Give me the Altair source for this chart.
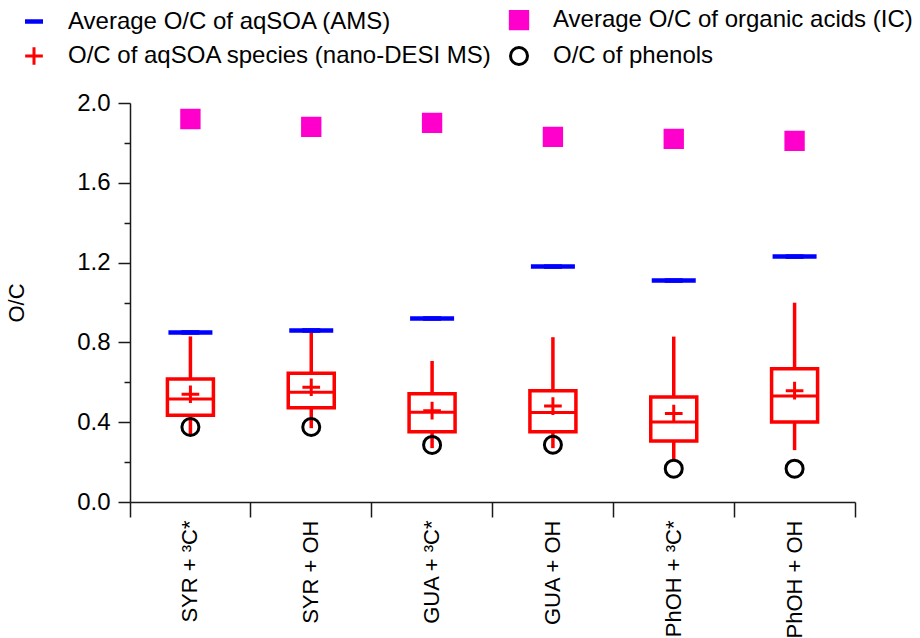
import altair as alt
import pandas as pd

# ---- data ----
cats = ["SYR + ³C*", "SYR + OH", "GUA + ³C*", "GUA + OH", "PhOH + ³C*", "PhOH + OH"]
ams_avg = [0.85, 0.86, 0.92, 1.18, 1.11, 1.23]          # Average O/C of aqSOA (AMS)
ic_avg = [1.92, 1.88, 1.90, 1.83, 1.82, 1.81]           # Average O/C of organic acids (IC)
whisk_lo = [0.335, 0.37, 0.27, 0.27, 0.21, 0.26]
q1 = [0.435, 0.473, 0.352, 0.352, 0.306, 0.401]
median = [0.516, 0.55, 0.45, 0.448, 0.401, 0.531]
q3 = [0.617, 0.645, 0.543, 0.558, 0.526, 0.668]
whisk_hi = [0.83, 0.85, 0.707, 0.826, 0.829, 0.999]
nano_mean = [0.54, 0.575, 0.458, 0.481, 0.443, 0.558]   # mean O/C nano-DESI MS
phenol = [0.376, 0.376, 0.286, 0.287, 0.167, 0.167]     # O/C of phenols

S_AMS = "Average O/C of aqSOA (AMS)"
S_IC = "Average O/C of organic acids (IC)"
S_NANO = "O/C of aqSOA species (nano-DESI MS)"
S_PHE = "O/C of phenols"
series_order = [S_AMS, S_NANO, S_IC, S_PHE]

box = pd.DataFrame({"cat": cats, "lo": whisk_lo, "q1": q1, "med": median,
                    "q3": q3, "hi": whisk_hi, "ams": ams_avg})

rows = []
for i, c in enumerate(cats):
    rows.append({"cat": c, "series": S_AMS, "v": ams_avg[i]})
    rows.append({"cat": c, "series": S_IC, "v": ic_avg[i]})
    rows.append({"cat": c, "series": S_NANO, "v": nano_mean[i]})
    rows.append({"cat": c, "series": S_PHE, "v": phenol[i]})
pts = pd.DataFrame(rows)

FONT = "Liberation Sans"
RED = "#FF0000"
BLUE = "#0000FF"
MAG = "#FF00CC"
AX = "#1a1a1a"

xscale = alt.Scale(domain=cats, paddingInner=0, paddingOuter=0)
yscale = alt.Scale(domain=[0, 2.0], nice=False)

x_main = alt.Axis(orient="bottom", title=None, ticks=False, domain=True, domainColor=AX,
                  domainWidth=1.5, labelAngle=270, labelAlign="right", labelBaseline="middle",
                  labelPadding=18, labelFontSize=22, labelColor="#000", labelFont=FONT,
                  grid=False)
x_ticks = alt.Axis(orient="bottom", title=None, labels=False, domain=False, ticks=True,
                   tickSize=15, tickColor=AX, tickWidth=1.5, bandPosition=0, grid=False)
x_end = alt.Axis(orient="bottom", title=None, labels=False, domain=False, ticks=True,
                 tickSize=15, tickColor=AX, tickWidth=1.5, bandPosition=1,
                 values=[cats[-1]], grid=False)

y_main = alt.Axis(orient="left", values=[0, 0.4, 0.8, 1.2, 1.6, 2.0], format=".1f",
                  tickSize=12, tickColor=AX, tickWidth=1.5, domainColor=AX, domainWidth=1.5,
                  labelFontSize=24, labelPadding=8, labelColor="#000", labelFont=FONT,
                  title="O/C", titleFontSize=22, titleFontWeight="normal", titleFont=FONT,
                  titleColor="#000", titlePadding=48, grid=False)
y_minor = alt.Axis(orient="left", values=[0.2, 0.6, 1.0, 1.4, 1.8], labels=False,
                   domain=False, tickSize=6, tickColor=AX, tickWidth=1.5, title=None,
                   grid=False)

boxes = alt.Chart(box).mark_bar(size=46, fillOpacity=0, stroke=RED, strokeWidth=3.5, color=RED).encode(
    x=alt.X("cat:N", scale=xscale, sort=cats, axis=x_main),
    y=alt.Y("q1:Q", scale=yscale, axis=y_main),
    y2="q3:Q",
)

wh_lo = alt.Chart(box).mark_rule(color=RED, strokeWidth=3.5, opacity=1).encode(
    x=alt.X("cat:N", scale=xscale, sort=cats, axis=x_ticks),
    y=alt.Y("lo:Q", scale=yscale, axis=y_minor),
    y2="q1:Q",
)
wh_hi = alt.Chart(box).mark_rule(color=RED, strokeWidth=3.5, opacity=1).encode(
    x=alt.X("cat:N", scale=xscale, sort=cats, axis=None),
    y=alt.Y("q3:Q", scale=yscale, axis=None),
    y2="hi:Q",
)
med = alt.Chart(box).mark_tick(size=46, thickness=3, color=RED, opacity=1).encode(
    x=alt.X("cat:N", scale=xscale, sort=cats, axis=None),
    y=alt.Y("med:Q", scale=yscale, axis=None),
)

dash_path = "M-1,-0.25L1,-0.25L1,0.25L-1,0.25Z"
plus_path = "M-1,0L1,0M0,-1L0,1"
leg = alt.Legend(title=None, orient="none", legendX=-108, legendY=-95, columns=2,
                 labelFontSize=24, labelFont=FONT, labelColor="#000", labelLimit=600,
                 columnPadding=11, rowPadding=6, labelOffset=22, padding=0,
                 symbolStrokeWidth=3)

points = alt.Chart(pts).mark_point(filled=True, strokeWidth=3, opacity=1).encode(
    x=alt.X("cat:N", scale=xscale, sort=cats, axis=x_end),
    y=alt.Y("v:Q", scale=yscale, axis=None),
    shape=alt.Shape("series:N", scale=alt.Scale(domain=series_order,
                    range=[dash_path, plus_path, "square", "circle"]), legend=leg),
    fill=alt.Fill("series:N", scale=alt.Scale(domain=series_order,
                  range=[BLUE, "transparent", MAG, "transparent"]), legend=leg),
    stroke=alt.Stroke("series:N", scale=alt.Scale(domain=series_order,
                      range=["transparent", RED, MAG, "#000000"]), legend=leg),
    size=alt.Size("series:N", scale=alt.Scale(domain=series_order,
                  range=[324, 289, 144, 161]), legend=leg),
)

ams = alt.Chart(box).mark_tick(size=44, thickness=4.5, color=BLUE, opacity=1).encode(
    x=alt.X("cat:N", scale=xscale, sort=cats, axis=None),
    y=alt.Y("ams:Q", scale=yscale, axis=None),
)

chart = alt.layer(boxes, wh_lo, wh_hi, med, points, ams).resolve_axis(
    x="independent", y="independent"
).properties(
    width=725, height=399,
    autosize=alt.AutoSizeParams(type="none"),
    padding={"left": 130, "top": 103, "right": 65, "bottom": 136},
).configure(font=FONT).configure_view(strokeWidth=0)

chart.save("out.html", embed_options={"renderer": "svg", "actions": False})
